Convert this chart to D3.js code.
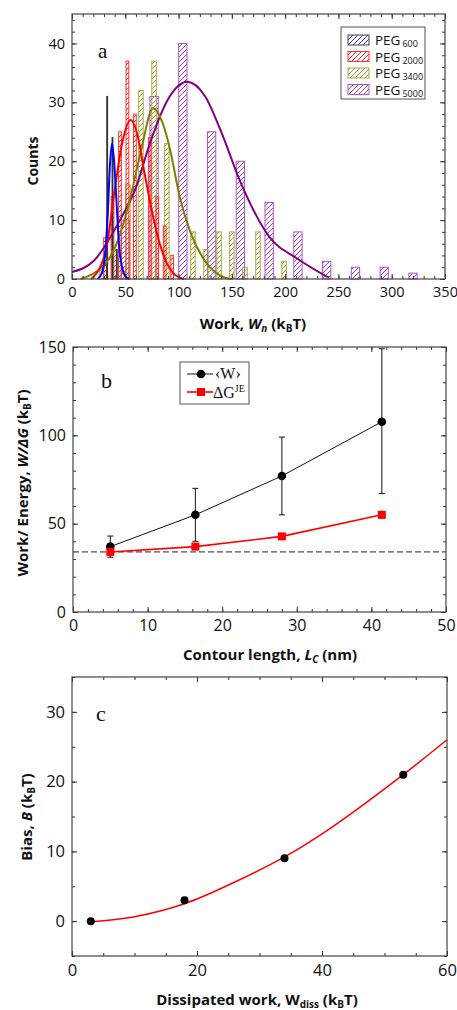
<!DOCTYPE html>
<html>
<head>
<script src="https://d3js.org/d3.v7.min.js"></script>
<style>
  body { margin: 0; background: #fff; }
  text { font-family: "Open Sans", sans-serif; fill: #111; }
  .serif { font-family: "Liberation Serif", serif; }
  .title { font-weight: bold; font-size: 15px; }
</style>
</head>
<body>
<script>
// ---- panel a: histograms of work (kBT) ----
var peg600X = [33, 38, 42];
var peg600N = [31, 24, 5];
var peg2000X = [31, 38, 45, 52, 59, 73, 80, 87, 94];
var peg2000N = [7, 14, 25, 37, 28, 24, 14, 9, 4];
var peg3400X = [28, 40, 52.5, 64.7, 77, 89, 113.5, 125.7, 138, 150, 162.3, 174.5, 199];
var peg3400N = [2, 5, 16, 32, 37, 23, 8, 5, 8, 8, 2, 8, 3];
var peg5000X = [50, 77, 104, 131, 158, 185, 212, 239, 266, 293, 320];
var peg5000N = [10, 31, 40, 25, 20, 13, 8, 3, 2, 2, 1];

// fitted curves, points
var fit600 = [[24,0],[28,1],[31,4],[33.5,11],[35.5,19],[37.5,23],[39.5,20],[41.5,14],[44,6],[47,2],[50,0.5],[54,0]];
var fit2000 = [[18,0],[25,1.5],[32,5],[40,15],[47,23],[55,27],[62,24],[68,18],[73,13.3],[80,7.5],[87,3.5],[95,1],[105,0]];
var fit3400 = [[8,0],[24,1.4],[35,3.5],[45,7.5],[55,14],[65,22],[76,29],[85,26.5],[92,22],[101,14],[111,8],[125,3],[140,0.5],[150,0]];
var fit5000 = [[0,1.2],[20,3],[45,10],[60,15.5],[73,23],[90,30.5],[108,33.5],[125,31],[140,25],[158,16.5],[185,7.2],[212,3.4],[240,0.3]];

// ---- panel b: work / free energy vs contour length ----
var contourLen = [5, 16.4, 28, 41.4];
var meanWork = [37, 55, 77, 107.7];
var meanWorkHi = [43, 70, 99, 149];
var meanWorkLo = [31, 40, 55, 67];
var deltaG = [34, 37, 42.8, 55];
var deltaGErr = [2, 1.5, 1.5, 2.5];
var refLevel = 34;

// ---- panel c: bias vs dissipated work ----
var wDiss = [3, 18, 34, 53];
var bias = [0, 3, 9, 21];
var biasFit = [[3,-0.1],[9.8,0.6],[18,2.5],[25.8,5.5],[34,9.2],[41.8,13.6],[53,21],[60,26]];

var svg = d3.select("body").append("svg")
    .attr("width", 457).attr("height", 1010);

var defs = svg.append("defs");
function hatch(id, color) {
  var p = defs.append("pattern").attr("id", id)
      .attr("patternUnits", "userSpaceOnUse")
      .attr("width", 5).attr("height", 5);
  p.append("path").attr("d", "M-1,6 L6,-1 M-1,1 L1,-1 M4,6 L6,4")
      .attr("stroke", color).attr("stroke-width", 1);
}
hatch("h600", "#3030ff");
hatch("h2000", "#ff2020");
hatch("h3400", "#9a9a30");
hatch("h5000", "#a040c0");

// frame with inward ticks on all four sides
function frame(g, x, y, w, h, xMaj, xMin, yMaj, yMin, fs) {
  var parts = [
    [d3.axisBottom(x), xMaj, 5, true, [0, h], 8], [d3.axisBottom(x), xMin, 3, false, [0, h], 8],
    [d3.axisTop(x), xMaj, 5, false, [0, 0], 0], [d3.axisTop(x), xMin, 3, false, [0, 0], 0],
    [d3.axisLeft(y), yMaj, 5, true, [0, 0], 7], [d3.axisLeft(y), yMin, 3, false, [0, 0], 0],
    [d3.axisRight(y), yMaj, 5, false, [w, 0], 0], [d3.axisRight(y), yMin, 3, false, [w, 0], 0]
  ];
  parts.forEach(function(p) {
    var a = p[0].tickValues(p[1]).tickSize(-p[2]).tickPadding(p[5]);
    if (!p[3]) a.tickFormat("");
    var gg = g.append("g").attr("transform", "translate(" + p[4][0] + "," + p[4][1] + ")").call(a);
    gg.select(".domain").remove();
    gg.selectAll("line").attr("stroke", "#333");
    gg.selectAll("text").style("font-size", fs + "px").attr("fill", "#111")
      .style("font-family", "'Open Sans', sans-serif");
  });
  g.append("rect").attr("width", w).attr("height", h)
    .attr("fill", "none").attr("stroke", "#444").attr("stroke-width", 1.2);
}

// ================= panel a =================
var aw = 373, ah = 265;
var ga = svg.append("g").attr("transform", "translate(72,14)");
var xa = d3.scaleLinear().domain([0, 350]).range([0, aw]);
var ya = d3.scaleLinear().domain([0, 45]).range([ah, 0]);

function bars(xs, ns, bw, fill, stroke) {
  ga.append("g").selectAll("rect").data(xs).join("rect")
    .attr("x", function(d) { return xa(d - bw / 2); })
    .attr("width", xa(bw) - xa(0))
    .attr("y", function(d, i) { return ya(ns[i]); })
    .attr("height", function(d, i) { return ya(0) - ya(ns[i]); })
    .attr("fill", fill).attr("stroke", stroke).attr("stroke-width", 1);
}
bars(peg5000X, peg5000N, 7.8, "url(#h5000)", "#b050d0");
bars(peg3400X, peg3400N, 4.2, "url(#h3400)", "#a8a840");
bars(peg2000X, peg2000N, 2.6, "url(#h2000)", "#ff3030");
bars(peg600X, peg600N, 0.8, "url(#h600)", "#333");

var lineA = d3.line().curve(d3.curveMonotoneX)
  .x(function(d) { return xa(d[0]); }).y(function(d) { return ya(d[1]); });
[[fit5000, "#800080"], [fit3400, "#808000"], [fit2000, "#ff0000"], [fit600, "#0000ff"]].forEach(function(c) {
  ga.append("path").datum(c[0]).attr("d", lineA)
    .attr("fill", "none").attr("stroke", c[1]).attr("stroke-width", 2);
});

frame(ga, xa, ya, aw, ah, d3.range(0, 351, 50), d3.range(0, 351, 10),
      d3.range(0, 41, 10), d3.range(0, 45, 2), 14.5);

ga.append("text").attr("class", "serif").attr("x", 26).attr("y", 44)
  .style("font-size", "21px").text("a");

// legend a
var legA = ga.append("g").attr("transform", "translate(269,13)");
legA.append("rect").attr("width", 84).attr("height", 72)
  .attr("fill", "#fff").attr("stroke", "#555");
var legItems = [["600", "url(#h600)", "#444"], ["2000", "url(#h2000)", "#ff3030"],
                ["3400", "url(#h3400)", "#a8a840"], ["5000", "url(#h5000)", "#b050d0"]];
legItems.forEach(function(d, i) {
  var yy = 13 + i * 16.5;
  legA.append("rect").attr("x", 7).attr("y", yy - 5).attr("width", 21).attr("height", 10)
    .attr("fill", d[1]).attr("stroke", d[2]);
  var t = legA.append("text").attr("x", 34).attr("y", yy + 5).style("font-size", "13.5px");
  t.append("tspan").text("PEG");
  t.append("tspan").attr("dx", 2).attr("dy", 2).style("font-size", "9px").text(d[0]);
});

// axis titles a
var ta = svg.append("text").attr("class", "title").attr("x", 253).attr("y", 329)
  .attr("text-anchor", "middle");
ta.append("tspan").text("Work, ");
ta.append("tspan").style("font-style", "italic").text("W");
ta.append("tspan").style("font-style", "italic").attr("dy", 3).style("font-size", "10px").text("n");
ta.append("tspan").attr("dy", -3).text(" (k");
ta.append("tspan").attr("dy", 3).style("font-size", "10px").text("B");
ta.append("tspan").attr("dy", -3).text("T)");

svg.append("text").attr("class", "title")
  .attr("transform", "translate(38,161) rotate(-90)")
  .attr("text-anchor", "middle").style("font-size", "14px").text("Counts");

// ================= panel b =================
var bw = 373, bh = 265;
var gb = svg.append("g").attr("transform", "translate(73,347)");
var xb = d3.scaleLinear().domain([0, 50]).range([0, bw]);
var yb = d3.scaleLinear().domain([0, 150]).range([bh, 0]);

gb.append("line").attr("x1", 0).attr("x2", bw)
  .attr("y1", yb(refLevel)).attr("y2", yb(refLevel))
  .attr("stroke", "#222").attr("stroke-dasharray", "6,3").attr("stroke-width", 1);

// error bars
gb.append("g").selectAll("g").data(contourLen).join("g").each(function(d, i) {
  var g = d3.select(this);
  g.append("line").attr("x1", xb(d)).attr("x2", xb(d))
    .attr("y1", yb(meanWorkLo[i])).attr("y2", yb(meanWorkHi[i])).attr("stroke", "#111");
  [meanWorkLo[i], meanWorkHi[i]].forEach(function(v) {
    g.append("line").attr("x1", xb(d) - 3).attr("x2", xb(d) + 3)
      .attr("y1", yb(v)).attr("y2", yb(v)).attr("stroke", "#111");
  });
  g.append("line").attr("x1", xb(d)).attr("x2", xb(d))
    .attr("y1", yb(deltaG[i] - deltaGErr[i])).attr("y2", yb(deltaG[i] + deltaGErr[i]))
    .attr("stroke", "#ff0000");
});

var lineB = d3.line().x(function(d) { return xb(d[0]); }).y(function(d) { return yb(d[1]); });
gb.append("path").datum(d3.zip(contourLen, meanWork)).attr("d", lineB)
  .attr("fill", "none").attr("stroke", "#111").attr("stroke-width", 1);
gb.append("path").datum(d3.zip(contourLen, deltaG)).attr("d", lineB)
  .attr("fill", "none").attr("stroke", "#ff0000").attr("stroke-width", 1.6);
gb.append("g").selectAll("circle").data(contourLen).join("circle")
  .attr("cx", function(d) { return xb(d); })
  .attr("cy", function(d, i) { return yb(meanWork[i]); })
  .attr("r", 4.3).attr("fill", "#000");
gb.append("g").selectAll("rect").data(contourLen).join("rect")
  .attr("x", function(d) { return xb(d) - 4; })
  .attr("y", function(d, i) { return yb(deltaG[i]) - 4; })
  .attr("width", 8).attr("height", 8).attr("fill", "#ff0000");

frame(gb, xb, yb, bw, bh, d3.range(0, 51, 10), d3.range(0, 51, 2),
      d3.range(0, 151, 50), d3.range(0, 151, 10), 16);

gb.append("text").attr("class", "serif").attr("x", 28).attr("y", 41)
  .style("font-size", "22px").text("b");

// legend b
var legB = gb.append("g").attr("transform", "translate(107,15)");
legB.append("rect").attr("width", 69).attr("height", 42)
  .attr("fill", "#fff").attr("stroke", "#555");
legB.append("line").attr("x1", 7).attr("x2", 33).attr("y1", 12).attr("y2", 12).attr("stroke", "#111");
legB.append("circle").attr("cx", 21).attr("cy", 12).attr("r", 4.3).attr("fill", "#000");
legB.append("text").attr("class", "serif").attr("x", 35).attr("y", 17)
  .style("font-size", "16px").text("\u2039W\u203a");
legB.append("line").attr("x1", 7).attr("x2", 33).attr("y1", 30).attr("y2", 30)
  .attr("stroke", "#ff0000").attr("stroke-width", 1.6);
legB.append("rect").attr("x", 17).attr("y", 26).attr("width", 8).attr("height", 8).attr("fill", "#ff0000");
var tg = legB.append("text").attr("class", "serif").attr("x", 33).attr("y", 36).style("font-size", "16px");
tg.append("tspan").text("\u0394G");
tg.append("tspan").attr("dy", -6).style("font-size", "10px").text("JE");

var tb = svg.append("text").attr("class", "title")
  .attr("transform", "translate(28,483) rotate(-90)").attr("text-anchor", "middle");
tb.append("tspan").text("Work/ Energy, ");
tb.append("tspan").style("font-style", "italic").text("W/\u0394G");
tb.append("tspan").text(" (k");
tb.append("tspan").attr("dy", 3).style("font-size", "10px").text("B");
tb.append("tspan").attr("dy", -3).text("T)");

var tbx = svg.append("text").attr("class", "title").attr("x", 270).attr("y", 660)
  .attr("text-anchor", "middle");
tbx.append("tspan").text("Contour length, ");
tbx.append("tspan").style("font-style", "italic").text("L");
tbx.append("tspan").style("font-style", "italic").attr("dy", 3).style("font-size", "10px").text("C");
tbx.append("tspan").attr("dy", -3).text(" (nm)");

// ================= panel c =================
var cw = 375, ch = 279;
var gc = svg.append("g").attr("transform", "translate(72,677)");
var xc = d3.scaleLinear().domain([0, 60]).range([0, cw]);
var yc = d3.scaleLinear().domain([-5, 35]).range([ch, 0]);

gc.append("path").datum(biasFit)
  .attr("d", d3.line().curve(d3.curveCatmullRom)
    .x(function(d) { return xc(d[0]); }).y(function(d) { return yc(d[1]); }))
  .attr("fill", "none").attr("stroke", "#ff0000").attr("stroke-width", 1.5);
gc.append("g").selectAll("circle").data(wDiss).join("circle")
  .attr("cx", function(d) { return xc(d); })
  .attr("cy", function(d, i) { return yc(bias[i]); })
  .attr("r", 4).attr("fill", "#000");

frame(gc, xc, yc, cw, ch, d3.range(0, 61, 20), d3.range(0, 61, 5),
      d3.range(0, 31, 10), d3.range(-5, 36, 5), 16.5);

gc.append("text").attr("class", "serif").attr("x", 24).attr("y", 44)
  .style("font-size", "22px").text("c");

var tc = svg.append("text").attr("class", "title")
  .attr("transform", "translate(32,817) rotate(-90)").attr("text-anchor", "middle");
tc.append("tspan").text("Bias, ");
tc.append("tspan").style("font-style", "italic").text("B");
tc.append("tspan").text(" (k");
tc.append("tspan").attr("dy", 3).style("font-size", "10px").text("B");
tc.append("tspan").attr("dy", -3).text("T)");

var tcx = svg.append("text").attr("class", "title").attr("x", 257).attr("y", 1005)
  .attr("text-anchor", "middle");
tcx.append("tspan").text("Dissipated work, W");
tcx.append("tspan").attr("dy", 3).style("font-size", "10px").text("diss");
tcx.append("tspan").attr("dy", -3).text(" (k");
tcx.append("tspan").attr("dy", 3).style("font-size", "10px").text("B");
tcx.append("tspan").attr("dy", -3).text("T)");
</script>
</body>
</html>
